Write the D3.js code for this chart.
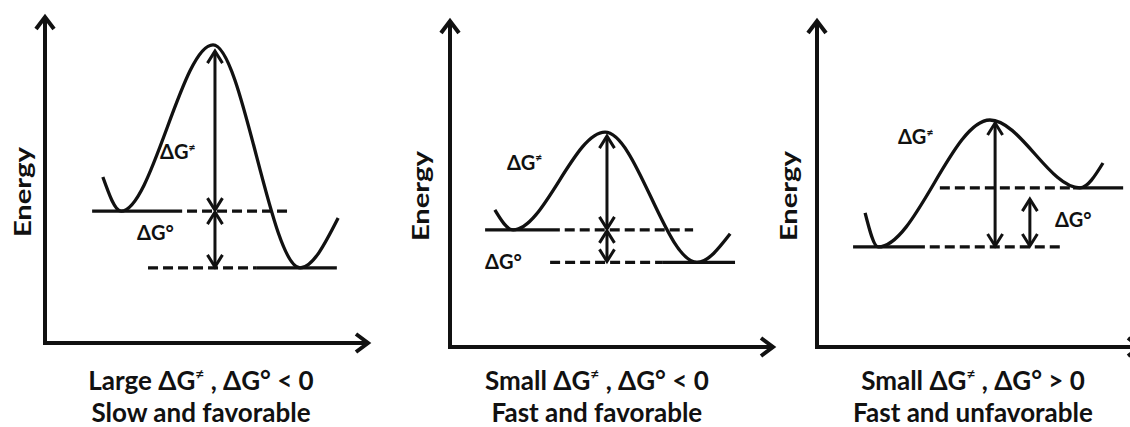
<!DOCTYPE html>
<html><head><meta charset="utf-8">
<script src="https://cdn.jsdelivr.net/npm/d3@7"></script>
<style>html,body{margin:0;padding:0;background:#fff;overflow:hidden}</style>
</head><body><svg id="chart" width="1130" height="427"></svg>
<script>
// ---------- data (reaction coordinate 0-100, energy 0-100) ----------
const panelIds = ["large-favorable", "small-favorable", "small-unfavorable"];
const captionLine1 = ["Large ΔG≠ , ΔG° < 0", "Small ΔG≠ , ΔG° < 0", "Small ΔG≠ , ΔG° > 0"];
const captionLine2 = ["Slow and favorable", "Fast and favorable", "Fast and unfavorable"];
const axisLabel = "Energy";
const barrierLabel = "ΔG≠";
const freeEnergyLabel = "ΔG°";

// energy profile key points: left wall, reactant well, transition state, product well, right wall
const curveCoord  = [[17.8, 23.4, 51.7, 78.5, 90.2], [13.8, 19.4, 47.7, 76.0, 86.2], [14.8, 18.8, 53.2, 80.9, 88.0]];
const curveEnergy = [[50.6, 40.2, 90.9, 22.9, 38.1], [41.8, 35.7, 65.5, 25.8, 34.5], [40.9, 30.5, 69.2, 48.5, 56.1]];

const reactantEnergy = [40.2, 35.7, 30.5];
const productEnergy  = [22.9, 25.8, 48.5];
const transitionEnergy = [89.3, 64.6, 68.6];

// level lines: [solid start, solid end / dash start, dash end] for reactant; [dash start, dash end / solid start, solid end] for product
const reactantLine = [[14.5, 42.2, 75.4], [10.8, 33.8, 74.8], [11.1, 33.2, 75.4]];
const productLine  = [[31.7, 65.2, 89.8], [30.8, 65.5, 87.7], [37.8, 78.8, 94.2]];

const barrierArrowCoord = [52.3, 48.3, 54.8];
const deltaArrowCoord   = [52.3, 48.3, 65.5];
const deltaArrowTop     = [40.2, 35.7, 45.4];
const deltaArrowBottom  = [22.9, 25.8, 30.5];

// ---------- layout ----------
const layout = {
  origins: [[45, 343], [450, 347], [817, 347]],
  plotW: 325, plotH: 328,
  energyLabelDx: [-23, -30, -29],
  energyLabelY: 46,
  barrierLabelAt: [[35.4, 56.1], [17.5, 54.0], [24.9, 61.9]],
  deltaLabelAt: [[28.3, 31.4], [10.8, 23.8], [73.2, 36.6]],
  captionX: [48, 45.2, 48],
  captionY: [390, 422]
};

const font = "Lato, 'Open Sans', 'DejaVu Sans', sans-serif";
const ink = "#111";
const svg = d3.select("#chart");

function arrowHead(g, tip, dir, L, w, sw) {
  const n = [-dir[1], dir[0]];
  const p1 = [tip[0] - L * dir[0] + w * n[0], tip[1] - L * dir[1] + w * n[1]];
  const p2 = [tip[0] - L * dir[0] - w * n[0], tip[1] - L * dir[1] - w * n[1]];
  g.append("path").attr("d", d3.line()([p1, tip, p2]))
    .attr("fill", "none").attr("stroke", ink).attr("stroke-width", sw)
    .attr("stroke-linejoin", "miter").attr("stroke-linecap", "butt");
}

function richText(sel, str, fs) {
  const parts = str.split("≠");
  parts.forEach((p, k) => {
    if (k > 0) {
      sel.append("tspan").attr("font-size", fs * 0.6).attr("dy", -fs * 0.42).text("≠");
      sel.append("tspan").attr("dy", fs * 0.42).text(p);
    } else {
      sel.append("tspan").text(p);
    }
  });
}

panelIds.forEach((id, i) => {
  const [ox, oy] = layout.origins[i];
  const x = d3.scaleLinear().domain([0, 100]).range([ox, ox + layout.plotW]);
  const y = d3.scaleLinear().domain([0, 100]).range([oy, oy - layout.plotH]);
  const g = svg.append("g").attr("id", id);
  const line = d3.line().x(d => x(d[0])).y(d => y(d[1]));

  // axes
  g.append("path").attr("d", line([[0, 99], [0, 0], [99, 0]]))
    .attr("fill", "none").attr("stroke", ink).attr("stroke-width", 4).attr("stroke-linejoin", "miter");
  arrowHead(g, [x(0), y(100) + 2], [0, -1], 12, 9, 4);
  arrowHead(g, [x(100) - 2, y(0)], [1, 0], 12, 9, 4);

  // axis label
  const ex = ox + layout.energyLabelDx[i], ey = y(layout.energyLabelY);
  g.append("text").attr("transform", `translate(${ex},${ey}) rotate(-90)`)
    .attr("text-anchor", "middle").attr("dominant-baseline", "central")
    .attr("font-family", font).attr("font-weight", 700).attr("font-size", 23)
    .attr("textLength", 90).attr("lengthAdjust", "spacingAndGlyphs")
    .attr("fill", ink).text(axisLabel);

  // level lines
  const rl = reactantLine[i], pl = productLine[i];
  const lvl = (a, b, e, dashed) => g.append("path").attr("d", line([[a, e], [b, e]]))
    .attr("fill", "none").attr("stroke", ink).attr("stroke-width", 3.2)
    .attr("stroke-dasharray", dashed ? "10,5" : null);
  lvl(rl[0], rl[1], reactantEnergy[i], false);
  lvl(rl[1] + 1.5, rl[2], reactantEnergy[i], true);
  lvl(pl[0], pl[1], productEnergy[i], true);
  lvl(pl[1], pl[2], productEnergy[i], false);

  // energy profile
  const pts = curveCoord[i].map((c, k) => [c, curveEnergy[i][k]]);
  g.append("path").attr("d", line.curve(d3.curveMonotoneX)(pts))
    .attr("fill", "none").attr("stroke", ink).attr("stroke-width", 3.3);
  line.curve(d3.curveLinear);

  // double-headed arrows
  const dbl = (c, eTop, eBot) => {
    const px = x(c), yt = y(eTop), yb = y(eBot);
    g.append("path").attr("d", `M${px},${yt + 2}V${yb - 2}`)
      .attr("stroke", ink).attr("stroke-width", 3);
    arrowHead(g, [px, yt + 1], [0, -1], 12, 7.5, 3);
    arrowHead(g, [px, yb - 1], [0, 1], 12, 7.5, 3);
  };
  dbl(barrierArrowCoord[i], transitionEnergy[i], reactantEnergy[i]);
  dbl(deltaArrowCoord[i], deltaArrowTop[i], deltaArrowBottom[i]);

  // labels
  const bl = layout.barrierLabelAt[i], dl = layout.deltaLabelAt[i];
  const t1 = g.append("text").attr("x", x(bl[0])).attr("y", y(bl[1]))
    .attr("font-family", font).attr("font-weight", 700).attr("font-size", 20).attr("fill", ink);
  richText(t1, barrierLabel, 20);
  g.append("text").attr("x", x(dl[0])).attr("y", y(dl[1]))
    .attr("font-family", font).attr("font-weight", 700).attr("font-size", 20).attr("fill", ink)
    .text(freeEnergyLabel);

  // captions
  const c1 = g.append("text").attr("x", x(layout.captionX[i])).attr("y", layout.captionY[0])
    .attr("text-anchor", "middle").attr("font-family", font).attr("font-weight", 700)
    .attr("font-size", 26).attr("fill", ink);
  richText(c1, captionLine1[i], 26);
  g.append("text").attr("x", x(layout.captionX[i])).attr("y", layout.captionY[1])
    .attr("text-anchor", "middle").attr("font-family", font).attr("font-weight", 700)
    .attr("font-size", 26).attr("fill", ink).text(captionLine2[i]);
});
</script></body></html>
